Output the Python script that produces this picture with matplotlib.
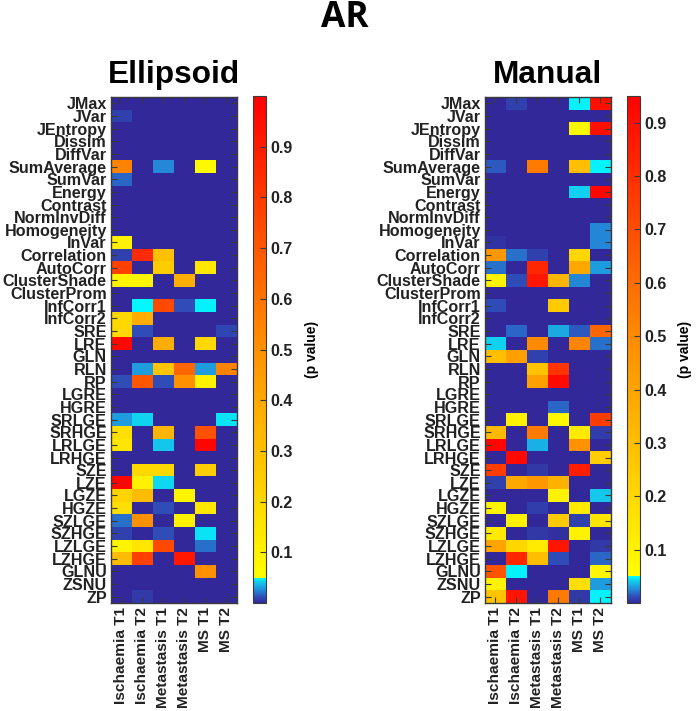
import matplotlib
matplotlib.use('Agg')
import matplotlib.pyplot as plt
from matplotlib.colors import LinearSegmentedColormap, Normalize

plt.rcParams['font.family'] = ['Liberation Sans', 'DejaVu Sans']

features = ['JMax', 'JVar', 'JEntropy', 'Dissim', 'DiffVar', 'SumAverage', 'SumVar', 'Energy',
            'Contrast', 'NormInvDiff', 'Homogeneity', 'InVar', 'Correlation', 'AutoCorr',
            'ClusterShade', 'ClusterProm', 'InfCorr1', 'InfCorr2', 'SRE', 'LRE', 'GLN', 'RLN',
            'RP', 'LGRE', 'HGRE', 'SRLGE', 'SRHGE', 'LRLGE', 'LRHGE', 'SZE', 'LZE', 'LGZE',
            'HGZE', 'SZLGE', 'SZHGE', 'LZLGE', 'LZHGE', 'GLNU', 'ZSNU', 'ZP']
groups = ['Ischaemia T1', 'Ischaemia T2', 'Metastasis T1', 'Metastasis T2', 'MS T1', 'MS T2']

ellipsoid_p = [
    [0, 0, 0, 0, 0, 0],
    [.008, 0, 0, 0, 0, 0],
    [0, 0, 0, 0, 0, 0],
    [0, 0, 0, 0, 0, 0],
    [0, 0, 0, 0, 0, 0],
    [.55, 0, .025, 0, .07, 0],
    [.018, 0, 0, 0, 0, 0],
    [0, 0, 0, 0, 0, 0],
    [0, 0, 0, 0, 0, 0],
    [0, 0, 0, 0, 0, 0],
    [0, 0, 0, 0, 0, 0],
    [.1, 0, 0, 0, 0, 0],
    [.008, .85, .3, 0, 0, 0],
    [.78, 0, .25, 0, .14, 0],
    [.09, .09, 0, .38, 0, 0],
    [0, 0, 0, 0, 0, 0],
    [0, .049, .75, .012, .048, 0],
    [.2, .38, 0, 0, 0, 0],
    [.2, .012, 0, 0, 0, .01],
    [.97, 0, .38, 0, .2, 0],
    [0, 0, 0, 0, 0, 0],
    [0, .03, .28, .65, .03, .55],
    [.012, .7, .012, .5, .1, 0],
    [0, 0, 0, 0, 0, 0],
    [0, 0, 0, 0, 0, 0],
    [.03, .042, 0, 0, 0, .045],
    [.17, 0, .35, 0, .72, 0],
    [.15, 0, .04, 0, .98, 0],
    [0, 0, 0, 0, 0, 0],
    [0, .2, .2, 0, .24, 0],
    [.98, .1, .043, 0, 0, 0],
    [.22, .32, 0, .09, 0, 0],
    [.17, 0, .012, 0, .14, 0],
    [.02, .5, 0, .1, 0, 0],
    [.008, 0, .012, 0, .045, 0],
    [.09, .15, .75, 0, .02, 0],
    [.32, .78, 0, .92, 0, 0],
    [0, 0, 0, 0, .5, 0],
    [0, 0, 0, 0, 0, 0],
    [0, .006, 0, 0, 0, 0],
]

manual_p = [
    [0, .008, 0, 0, .048, .9],
    [0, 0, 0, 0, 0, 0],
    [0, 0, 0, 0, .08, .9],
    [0, 0, 0, 0, 0, 0],
    [0, 0, 0, 0, 0, 0],
    [.015, 0, .55, 0, .3, .048],
    [0, 0, 0, 0, 0, 0],
    [0, 0, 0, 0, .042, .93],
    [0, 0, 0, 0, 0, 0],
    [0, 0, 0, 0, 0, 0],
    [0, 0, 0, 0, 0, .025],
    [.004, 0, 0, 0, 0, .025],
    [.45, .02, .008, 0, .2, 0],
    [.02, 0, .82, 0, .38, .03],
    [.09, .012, .88, .33, .025, 0],
    [0, 0, 0, 0, 0, 0],
    [.012, 0, 0, .25, 0, 0],
    [0, 0, 0, 0, 0, 0],
    [0, .018, 0, .033, .015, .62],
    [.042, 0, .5, 0, .52, .02],
    [.3, .42, .008, 0, 0, 0],
    [0, 0, .28, .78, 0, 0],
    [0, 0, .42, .92, 0, 0],
    [0, 0, 0, 0, 0, 0],
    [0, 0, 0, .018, 0, 0],
    [0, .1, 0, .08, 0, .75],
    [.32, 0, .55, 0, .13, .007],
    [.93, 0, .035, 0, .47, 0],
    [0, .92, 0, 0, 0, .24],
    [.75, 0, .006, 0, .85, 0],
    [.008, .38, .45, .35, 0, 0],
    [0, 0, 0, .1, 0, .04],
    [.09, 0, .007, 0, .13, 0],
    [0, .1, 0, .25, .008, .15],
    [.13, 0, .006, .003, .1, 0],
    [.4, .2, .13, .88, 0, .006],
    [0, .82, .3, .012, 0, .018],
    [.68, .048, 0, 0, 0, .08],
    [.09, 0, 0, 0, .17, .03],
    [.28, .88, 0, .55, .006, .048],
]

W, H = 700, 711
DARK = '#3a3a3a'


def make_cmap(vmax):
    # blue to cyan below p=0.05, then a hard jump to yellow and on to red
    nodes = [(0, '#33289a'), (.012, '#2f4db8'), (.025, '#2488d8'), (.04, '#14c8ec'), (.05, '#00ffff'),
             (.0501, '#ffff00'), (.2, '#ffd800'), (.5 * vmax + .02, '#ff8c00'), (vmax, '#ff0000')]
    return LinearSegmentedColormap.from_list('pv', [(v / vmax, c) for v, c in nodes], N=2048)


def px_axes(x0, y0, x1, y1):
    return fig.add_axes([x0 / W, 1 - y1 / H, (x1 - x0) / W, (y1 - y0) / H])


def panel(data, title, x0, vmax, ticks, label_x):
    ax = px_axes(x0, 97, x0 + 125.5, 603)
    im = ax.imshow(data, cmap=make_cmap(vmax), norm=Normalize(0, vmax), aspect='auto',
                   interpolation='nearest')
    ax.set_xticks(range(len(groups)))
    ax.set_xticklabels(groups, rotation=90, fontsize=11.1, fontweight='bold', color='#222222')
    ax.set_yticks(range(len(features)))
    ax.set_yticklabels(features, fontsize=11.6, fontweight='bold', color='#222222')
    ax.tick_params(direction='in', top=True, right=True, length=4, width=.8, color=DARK, pad=3)
    for s in ax.spines.values():
        s.set_color(DARK)
        s.set_linewidth(1)
    ax.set_title(title, fontsize=22.8, fontweight='bold', pad=10)

    cax = px_axes(x0 + 142, 96, x0 + 155, 603)
    cb = fig.colorbar(im, cax=cax, ticks=ticks)
    cb.ax.tick_params(direction='in', length=4, width=.8, color=DARK, labelsize=11.5, pad=3.5)
    for t in cb.ax.get_yticklabels():
        t.set_fontweight('bold')
        t.set_color('#222222')
    cb.outline.set_edgecolor(DARK)
    cb.set_label('(p value)', fontsize=10, fontweight='bold', rotation=90, va='center')
    cb.ax.yaxis.set_label_coords((label_x - (x0 + 142)) / 13, .5)
    return ax


fig = plt.figure(figsize=(W / 100, H / 100), dpi=100)
bar_ticks = [.1, .2, .3, .4, .5, .6, .7, .8, .9]
panel(ellipsoid_p, 'Ellipsoid', 111, 1.0, bar_ticks, 312)
panel(manual_p, 'Manual', 485, .95, bar_ticks, 685)
fig.text(345 / W, 1 - 18 / H, 'AR', ha='center', va='center', fontsize=25.5, fontweight='bold',
         family=['Open Sans', 'DejaVu Sans'])
fig.savefig('out.png', dpi=100)
